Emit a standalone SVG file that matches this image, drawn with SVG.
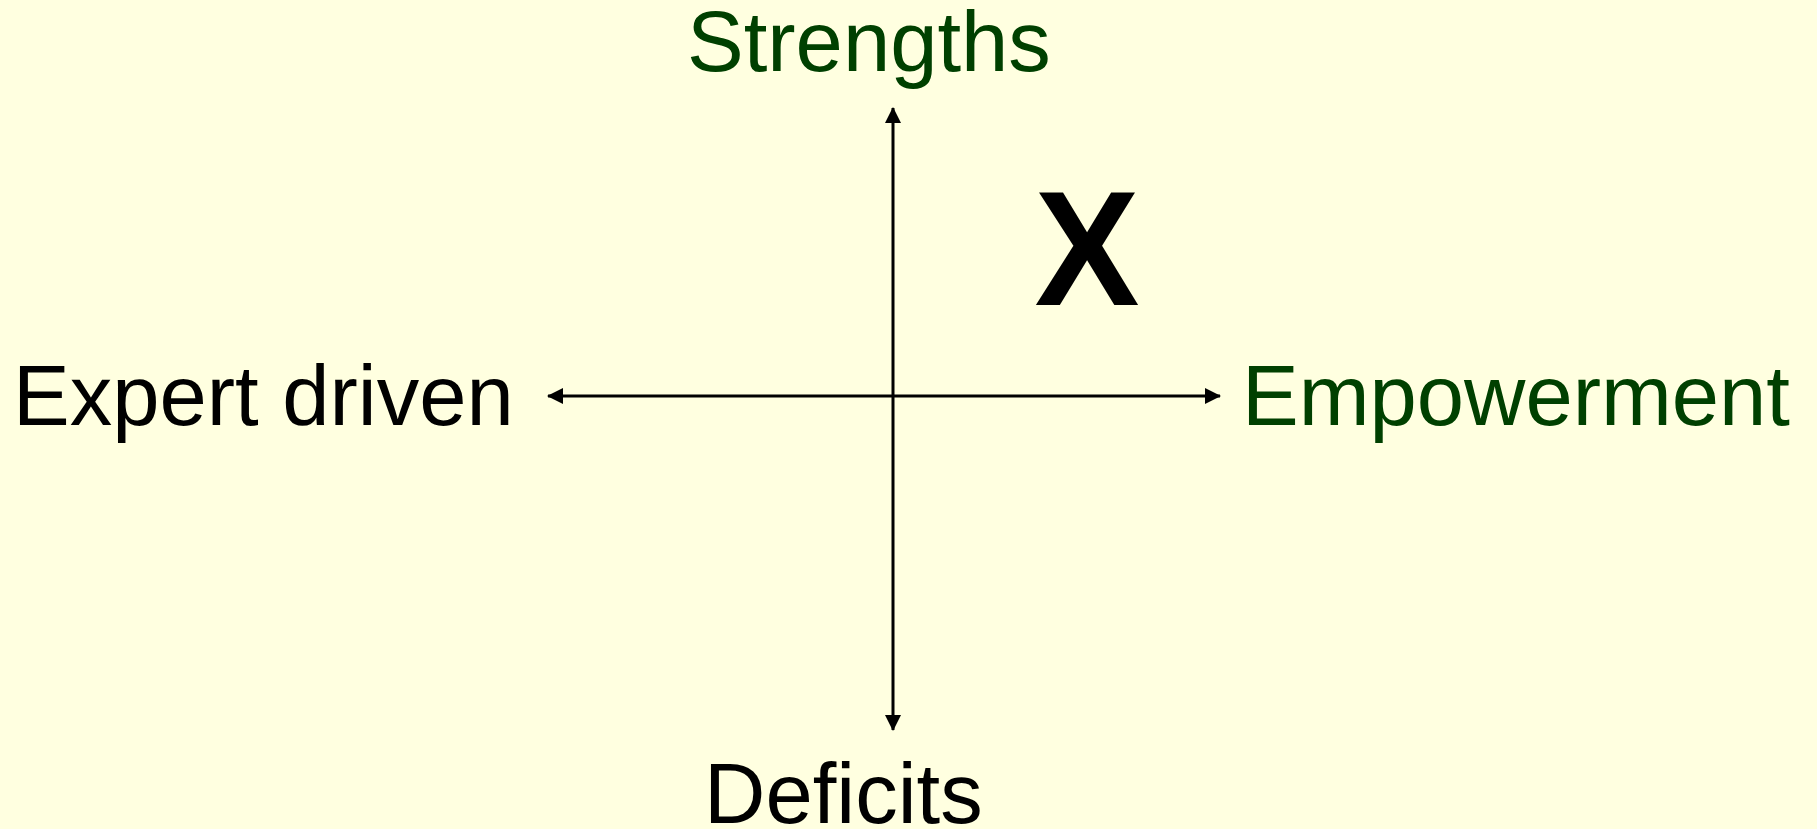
<svg xmlns="http://www.w3.org/2000/svg" width="1817" height="829" viewBox="0 0 1817 829">
<defs>
<style>
.lbl{font-family:"Liberation Sans",Arial,sans-serif;font-size:85px}
.g{fill:#004000}
.k{fill:#000}
.ax{stroke:#000;stroke-width:3;fill:none}
</style>
<marker id="ah" markerUnits="userSpaceOnUse" markerWidth="16" markerHeight="16" refX="15" refY="8" orient="auto-start-reverse" viewBox="0 0 16 16">
<path d="M0,0 L16,8 L0,16 Z" fill="#000"/>
</marker>
</defs>
<rect width="1817" height="829" fill="#FFFFE0"/>
<g id="connectors">
<line class="ax" x1="893" y1="108" x2="893" y2="730" marker-start="url(#ah)" marker-end="url(#ah)"/>
<line class="ax" x1="548" y1="396" x2="1220" y2="396" marker-start="url(#ah)" marker-end="url(#ah)"/>
</g>
<g id="strengths"><text class="lbl g" x="687" y="71">Strengths</text></g>
<g id="deficits"><text class="lbl k" x="704" y="823">Deficits</text></g>
<g id="expert"><text class="lbl k" x="13" y="425">Expert driven</text></g>
<g id="empowerment"><text class="lbl g" x="1242" y="425">Empowerment</text></g>
<g id="x-mark"><text x="0" y="0" text-anchor="middle" transform="translate(1087,305) scale(0.96,1)" style="font-family:'Liberation Sans',Arial,sans-serif;font-size:164px;font-weight:bold" fill="#000">X</text></g>
</svg>
